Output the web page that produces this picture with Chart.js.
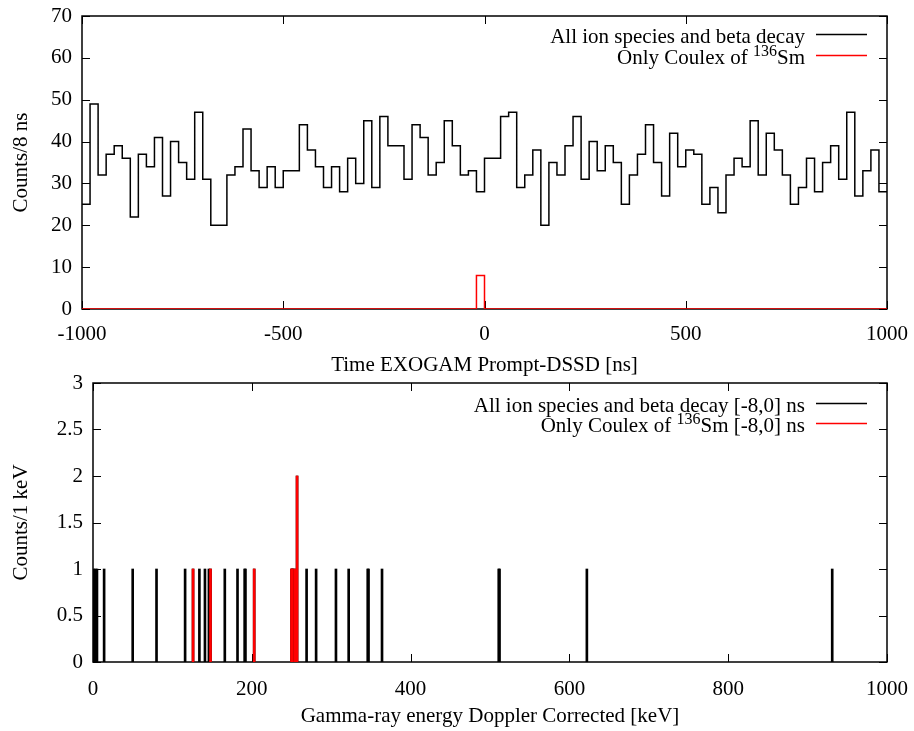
<!DOCTYPE html>
<html><head><meta charset="utf-8">
<script src="https://cdn.jsdelivr.net/npm/chart.js@4"></script>
<style>
html,body{margin:0;padding:0;background:#fff;}
#wrap{position:relative;width:914px;height:731px;overflow:hidden;}
canvas{position:absolute;left:0;}
#c1{top:0;}
#c2{top:370px;}
</style></head><body>
<div id="wrap">
<canvas id="c1" width="914" height="380"></canvas>
<canvas id="c2" width="914" height="361"></canvas>
</div>
<script>
// ---------- DATA ----------
// Top panel: time histogram, 20 ns bins from -1000 to 1000 ns
const timeStart = -1000;
const timeBinWidth = 20;
const allIonsTime = [
  25,49,32,37,39,36,22,37,34,41,
  27,40,35,31,47,31,20,20,32,34,
  43,33,29,34,29,33,33,44,38,34,
  29,34,28,36,30,45,29,46,39,39,
  31,44,41,32,35,45,39,32,33,28,
  36,36,46,47,29,32,38,20,35,32,
  39,46,31,40,33,39,35,25,32,37,
  44,35,27,42,34,38,37,25,29,23,
  32,36,34,45,32,42,38,32,25,29,
  36,28,35,39,31,47,27,33,38,28];
const coulexTime = [
  0,0,0,0,0,0,0,0,0,0,
  0,0,0,0,0,0,0,0,0,0,
  0,0,0,0,0,0,0,0,0,0,
  0,0,0,0,0,0,0,0,0,0,
  0,0,0,0,0,0,0,0,0,8,
  0,0,0,0,0,0,0,0,0,0,
  0,0,0,0,0,0,0,0,0,0,
  0,0,0,0,0,0,0,0,0,0,
  0,0,0,0,0,0,0,0,0,0,
  0,0,0,0,0,0,0,0,0,0];
const timeTicksX = [-1000, -500, 0, 500, 1000];

// Bottom panel: gamma-ray energy spectrum (1 keV bins), only non-empty bins
const allIonsEnergy = [1,3,5,14,50,80,116,126,134,141,146,148,166,182,191,192,203,250,251,252,254,257,269,281,306,322,346,347,364,511,512,622,931];
const allIonsEnergyCounts = [1,1,1,1,1,1,1,1,1,1,1,1,1,1,1,1,1,1,1,1,1,2,1,1,1,1,1,1,1,1,1,1,1];
const coulexEnergy = [126,148,203,250,251,254,257];
const coulexEnergyCounts = [1,1,1,1,1,1,2];

const topLegend = [
  {parts:[{t:'All ion species and beta decay'}], color:'#000000'},
  {parts:[{t:'Only Coulex of '},{t:'136',sup:true},{t:'Sm'}], color:'#ff0000'}
];
const bottomLegend = [
  {parts:[{t:'All ion species and beta decay [-8,0] ns'}], color:'#000000'},
  {parts:[{t:'Only Coulex of '},{t:'136',sup:true},{t:'Sm [-8,0] ns'}], color:'#ff0000'}
];

// ---------- HELPERS ----------
const FAM = '"Liberation Serif", "Times New Roman", serif';
const FS = 21;

function histSteps(counts){
  const pts = [];
  counts.forEach((c,i)=>{
    const x0 = timeStart + i*timeBinWidth;
    pts.push({x:x0, y:c}, {x:x0+timeBinWidth, y:c});
  });
  return pts;
}
function pairs(xs, ys){ return xs.map((x,i)=>({x:x, y:ys[i]})); }

const framePlugin = {
  id:'frame',
  beforeDatasetsDraw(chart){
    const {ctx, chartArea:a, scales:{x,y}} = chart;
    ctx.save();
    ctx.strokeStyle = '#000';
    ctx.lineWidth = 1;
    const L = 8;
    ctx.beginPath();
    x.ticks.forEach(t=>{
      const px = Math.round(x.getPixelForValue(t.value))+0.5;
      ctx.moveTo(px, a.bottom); ctx.lineTo(px, a.bottom-L);
      ctx.moveTo(px, a.top); ctx.lineTo(px, a.top+L);
    });
    y.ticks.forEach(t=>{
      const py = Math.round(y.getPixelForValue(t.value))+0.5;
      ctx.moveTo(a.left, py); ctx.lineTo(a.left+L, py);
      ctx.moveTo(a.right, py); ctx.lineTo(a.right-L, py);
    });
    ctx.stroke();
    ctx.lineWidth = 1.5;
    ctx.strokeRect(a.left, a.top, a.right-a.left, a.bottom-a.top);
    ctx.restore();
  }
};

function legendPlugin(entries, rows){
  return {
    id:'customLegend',
    afterDraw(chart){
      const ctx = chart.ctx;
      ctx.save();
      ctx.textBaseline = 'alphabetic';
      ctx.textAlign = 'left';
      entries.forEach((e,k)=>{
        const y = rows[k];
        let xr = 805;
        for (let j=e.parts.length-1; j>=0; j--){
          const p = e.parts[j];
          ctx.font = (p.sup ? 16 : FS) + 'px ' + FAM;
          const w = ctx.measureText(p.t).width;
          ctx.fillStyle = '#000';
          ctx.fillText(p.t, xr-w, p.sup ? y : y+8);
          xr -= w;
        }
        ctx.strokeStyle = e.color;
        ctx.lineWidth = 1.5;
        ctx.beginPath(); ctx.moveTo(816, y); ctx.lineTo(867, y); ctx.stroke();
      });
      ctx.restore();
    }
  };
}

const tickFont = {family:FAM, size:FS};
function fixX(h){ return s=>{ s.height = h; s.paddingLeft = 0; s.paddingRight = 0; s.paddingTop = 0; s.paddingBottom = 0; }; }
function fixY(w){ return s=>{ s.width = w; s.paddingTop = 0; s.paddingBottom = 0; s.paddingLeft = 0; s.paddingRight = 0; }; }

// ---------- TOP CHART ----------
new Chart(document.getElementById('c1'), {
  type:'line',
  data:{
    datasets:[
      {data:histSteps(allIonsTime), borderColor:'#000000', borderWidth:1.5, pointRadius:0, tension:0, fill:false, order:2},
      {data:histSteps(coulexTime), borderColor:'#ff0000', borderWidth:1.5, pointRadius:0, tension:0, fill:false, order:1}
    ]
  },
  options:{
    responsive:false, animation:false, devicePixelRatio:1,
    layout:{padding:{left:0, right:27, top:16, bottom:0}},
    plugins:{legend:{display:false}, tooltip:{enabled:false}},
    scales:{
      x:{type:'linear', min:-1000, max:1000,
         afterBuildTicks(s){ s.ticks = timeTicksX.map(v=>({value:v})); },
         afterFit:fixX(71),
         grid:{display:false, drawTicks:false}, border:{display:false},
         ticks:{font:tickFont, color:'#000', padding:13, maxRotation:0, callback:v=>String(v)},
         title:{display:true, text:'Time EXOGAM Prompt-DSSD [ns]', font:tickFont, color:'#000', padding:{top:0,bottom:2}}},
      y:{type:'linear', min:0, max:70,
         afterFit:fixY(82),
         grid:{display:false, drawTicks:false}, border:{display:false},
         ticks:{font:tickFont, color:'#000', padding:10, stepSize:10, callback:v=>String(v)},
         title:{display:true, text:'Counts/8 ns', font:tickFont, color:'#000', padding:{top:9,bottom:0}}}
    }
  },
  plugins:[framePlugin, legendPlugin(topLegend, [34.5, 55.5])]
});

// ---------- BOTTOM CHART ----------
new Chart(document.getElementById('c2'), {
  type:'bar',
  data:{
    datasets:[
      {data:pairs(allIonsEnergy, allIonsEnergyCounts), backgroundColor:'#000000', borderWidth:0, barThickness:2, grouped:false, order:2},
      {data:pairs(coulexEnergy, coulexEnergyCounts), backgroundColor:'#ff0000', borderWidth:0, barThickness:2, grouped:false, order:1}
    ]
  },
  options:{
    responsive:false, animation:false, devicePixelRatio:1,
    layout:{padding:{left:0, right:27, top:13, bottom:0}},
    plugins:{legend:{display:false}, tooltip:{enabled:false}},
    scales:{
      x:{type:'linear', min:0, max:1000, offset:false,
         afterFit:fixX(69),
         grid:{display:false, drawTicks:false, offset:false}, border:{display:false},
         ticks:{font:tickFont, color:'#000', padding:15, stepSize:200, maxRotation:0, callback:v=>String(v)},
         title:{display:true, text:'Gamma-ray energy Doppler Corrected [keV]', font:tickFont, color:'#000', padding:{top:0,bottom:2}}},
      y:{type:'linear', min:0, max:3,
         afterFit:fixY(93),
         grid:{display:false, drawTicks:false}, border:{display:false},
         ticks:{font:tickFont, color:'#000', padding:10, stepSize:0.5, callback:v=>String(v)},
         title:{display:true, text:'Counts/1 keV', font:tickFont, color:'#000', padding:{top:9,bottom:0}}}
    }
  },
  plugins:[framePlugin, legendPlugin(bottomLegend, [33.5, 53.5])]
});
</script>
</body></html>
